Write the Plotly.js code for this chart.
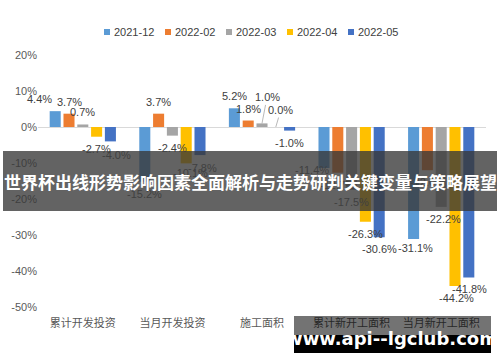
<!DOCTYPE html>
<html>
<head>
<meta charset="utf-8">
<script src="https://cdn.plot.ly/plotly-3.0.1.min.js"></script>
<style>
html,body{margin:0;padding:0;background:#fff;}
#chart{width:500px;height:362px;}
</style>
</head>
<body>
<div id="chart"></div>
<script>
const categories = ['累计开发投资', '当月开发投资', '施工面积', '累计新开工面积', '当月新开工面积'];
const seriesNames = ['2021-12', '2022-02', '2022-03', '2022-04', '2022-05'];
const s202112 = [4.4, -15.2, 5.2, -11.4, -31.1];
const s202202 = [3.7, 3.7, 1.8, -12.7, -12.0];
const s202203 = [0.7, -2.4, 1.0, -17.5, -22.2];
const s202204 = [-2.7, -10.1, 0.0, -26.3, -44.2];
const s202205 = [-4.0, -7.8, -1.0, -30.6, -41.8];
const yTickVals = [20, 10, 0, -10, -20, -30, -40, -50];
const yTickText = ['20%', '10%', '0%', '-10%', '-20%', '-30%', '-40%', '-50%'];
const bannerText = '世界杯出线形势影响因素全面解析与走势研判关键变量与策略展望';
const watermarkText = 'www.api--lgclub.com';

const colors = ['#5B9BD5', '#ED7D31', '#A5A5A5', '#FFC000', '#4472C4'];
const allSeries = [s202112, s202202, s202203, s202204, s202205];

// label placement tweaks [dx, dy(px up), leader line]
const labelNudge = [
  [[-16, 0], [0, 0], [0, 0], [-12, 10], [2, 3]],
  [[0, 0], [0, 0], [0, 0], [0, 0], [0, 0]],
  [[0, 0], [0, 0], [5, 14, 1], [0, 0], [2, 0]],
  [[0, 0], [4, 2], [5, 5, 1], [0, 0], [2, 0]],
  [[6, -2], [3, -1], [0, 0], [0, 0], [1, 0]]
];

const W = 500, H = 362;
const M = {l: 38, r: 14, t: 55, b: 55};
const PW = W - M.l - M.r, PH = H - M.t - M.b;
const px = X => (X - M.l) / PW;
const py = Y => (H - M.b - Y) / PH;
const BARGAP = 0.23, GROUPGAP = 0.2;
const pitch = PW / categories.length * (1 - BARGAP) / allSeries.length;

const FONT = 'Liberation Sans, Arial, Noto Sans CJK SC, sans-serif';

const traces = allSeries.map((vals, i) => ({
  type: 'bar',
  name: seriesNames[i],
  x: categories,
  y: vals,
  marker: {color: colors[i]},
  hoverinfo: 'none'
}));

const shapes = [];
const annotations = [];
// data labels
allSeries.forEach((vals, i) => {
  vals.forEach((v, j) => {
    const nd = labelNudge[i][j];
    const up = v >= 0;
    const base = {
      text: v.toFixed(1) + '%', xref: 'x', yref: 'y', x: categories[j], y: v,
      font: {size: 11, color: '#404040', family: FONT}
    };
    if (nd[2]) {
      Object.assign(base, {
        showarrow: true, arrowhead: 0, arrowwidth: 0.8, arrowcolor: '#A6A6A6', standoff: 0,
        xshift: (i - 2) * pitch, ax: nd[0], ay: -(12 + nd[1])
      });
    } else {
      Object.assign(base, {
        showarrow: false, xanchor: 'center', yanchor: 'middle',
        xshift: (i - 2) * pitch + nd[0], yshift: (up ? 12 : -12) + nd[1]
      });
    }
    annotations.push(base);
  });
});
// legend (custom, compact like the reference)
seriesNames.forEach((n, i) => {
  const x0 = 104 + i * 61;
  shapes.push({type: 'rect', xref: 'paper', yref: 'paper',
    x0: px(x0), x1: px(x0 + 6), y0: py(29), y1: py(35),
    fillcolor: colors[i], line: {width: 0}});
  annotations.push({text: n, xref: 'paper', yref: 'paper', x: px(x0 + 8), y: py(32),
    xanchor: 'left', yanchor: 'middle', showarrow: false,
    font: {size: 11, color: '#404040', family: FONT}});
});
// banner and watermark overlays
shapes.push(
  {type: 'rect', xref: 'paper', yref: 'paper', x0: px(3), x1: px(497), y0: py(151), y1: py(211),
   fillcolor: 'rgba(55,55,55,0.78)', line: {width: 0}, layer: 'above'},
  {type: 'rect', xref: 'paper', yref: 'paper', x0: px(294), x1: px(491), y0: py(316), y1: py(335),
   fillcolor: 'rgba(0,0,0,0.55)', line: {width: 0}, layer: 'above'},
  {type: 'rect', xref: 'paper', yref: 'paper', x0: px(294), x1: px(491), y0: py(335), y1: py(353),
   fillcolor: '#000', line: {width: 0}, layer: 'above'}
);
annotations.push(
  {text: '<b>' + bannerText + '</b>', xref: 'paper', yref: 'paper', x: px(250), y: py(181),
   xanchor: 'center', yanchor: 'middle', showarrow: false,
   font: {size: 17, color: '#fff', family: 'Noto Sans CJK SC, sans-serif'}},
  {text: '<b>' + watermarkText + '</b>', xref: 'paper', yref: 'paper', x: px(392), y: py(338),
   xanchor: 'center', yanchor: 'middle', showarrow: false,
   font: {size: 18, color: '#fff', family: 'DejaVu Sans, sans-serif'}}
);

const layout = {
  width: W, height: H,
  margin: M,
  paper_bgcolor: '#fff',
  plot_bgcolor: '#fff',
  barmode: 'group',
  bargap: BARGAP,
  bargroupgap: GROUPGAP,
  showlegend: false,
  xaxis: {
    type: 'category',
    range: [-0.5, categories.length - 0.5],
    showgrid: false, showline: false, zeroline: false,
    ticks: '', ticklabelstandoff: 8,
    tickfont: {size: 11, color: '#595959', family: 'Noto Sans CJK SC, sans-serif'},
    fixedrange: true
  },
  yaxis: {
    range: [-50, 20],
    tickvals: yTickVals, ticktext: yTickText,
    showgrid: false, showline: false,
    zeroline: true, zerolinecolor: '#D9D9D9', zerolinewidth: 1,
    ticks: '',
    tickfont: {size: 11, color: '#595959', family: FONT},
    fixedrange: true
  },
  shapes: shapes,
  annotations: annotations
};

Plotly.newPlot('chart', traces, layout, {displayModeBar: false, staticPlot: true});
</script>
</body>
</html>
